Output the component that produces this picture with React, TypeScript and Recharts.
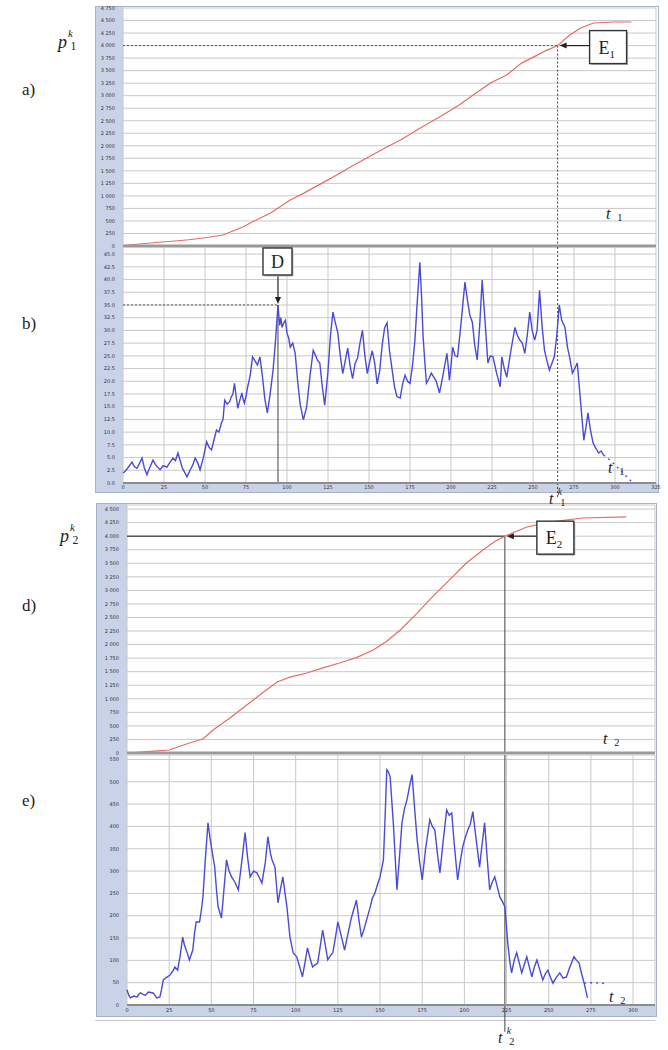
import React from "react";
import { LineChart, Line, XAxis, YAxis, CartesianGrid, ReferenceLine, ReferenceDot } from "recharts";

// time axis ticks (both plots)
const timeTicks = [0, 25, 50, 75, 100, 125, 150, 175, 200, 225, 250, 275, 300, 325];
const timeTicks2 = [0, 25, 50, 75, 100, 125, 150, 175, 200, 225, 250, 275, 300];
const ticksA = [0, 250, 500, 750, 1000, 1250, 1500, 1750, 2000, 2250, 2500, 2750, 3000, 3250, 3500, 3750, 4000, 4250, 4500, 4750];
const ticksD = [0, 250, 500, 750, 1000, 1250, 1500, 1750, 2000, 2250, 2500, 2750, 3000, 3250, 3500, 3750, 4000, 4250, 4500];
const ticksB = [0, 2.5, 5, 7.5, 10, 12.5, 15, 17.5, 20, 22.5, 25, 27.5, 30, 32.5, 35, 37.5, 40, 42.5, 45];
const ticksE = [0, 50, 100, 150, 200, 250, 300, 350, 400, 450, 500, 550];

// a) cumulative curve p1
const tA = [0, 10, 20, 30, 40, 49, 61, 73, 80, 90, 102, 110, 120, 130, 140, 150, 160, 170, 180, 193, 205, 215, 224, 234, 243, 252, 258, 265, 272, 279, 287, 299, 310];
const pA = [10, 40, 70, 95, 125, 160, 220, 380, 500, 660, 920, 1050, 1230, 1410, 1600, 1780, 1960, 2130, 2330, 2575, 2815, 3050, 3254, 3413, 3650, 3800, 3900, 4000, 4200, 4351, 4451, 4471, 4471];

// b) rate 1
const tB = [
  0, 1, 3, 5.5, 7, 8.5, 10, 11.6, 13, 14.6,
  16, 18.3, 20, 22.6, 24.5, 26.8, 28.5, 30.5, 32, 33.5,
  36, 39, 41, 42.5, 44, 45.5, 47, 49, 51, 52.5,
  54, 55.5, 57, 58.5, 60, 61, 62, 63.5, 65, 66,
  67, 68, 69, 70, 71, 72.5, 73.2, 74, 75, 76,
  77.5, 79, 80.5, 82, 83.5, 85, 86.5, 88, 89.5, 91.5,
  93, 94.5, 95.5, 96.2, 97, 98, 99, 100, 101, 102,
  103.5, 105, 106.5, 108, 110, 112, 114, 116, 117.5, 118.5,
  120, 121.5, 123, 125, 126.5, 128, 129.5, 131, 132.5, 134,
  135.5, 137, 138.5, 140, 141.5, 143, 144.5, 146, 147.5, 149,
  150.5, 152, 153.5, 155, 156.5, 158, 159.5, 161, 162.5, 164,
  165.5, 167, 169, 170.5, 172, 173.5, 175, 176.5, 178, 179.5,
  181, 182, 183, 184, 185, 186.5, 188, 189.5, 191, 193,
  195, 197.5, 198.3, 199, 200, 201, 202.5, 204, 206, 208.5,
  210, 211.5, 213, 214.5, 216, 217.5, 219, 220.5, 222.5, 224,
  225.6, 227.5, 230, 231, 232.5, 234, 236.5, 239, 240.5, 242,
  243.5, 245, 246.5, 248, 249.5, 251, 252.5, 254, 255.5, 257,
  258.5, 260, 261.5, 263, 264.5, 266, 267.5, 269.5, 271, 272.5,
  274, 275.5, 277, 279, 281, 282.3, 283.5, 285, 286.6, 288,
  290, 291.5, 293,
];
const vB = [
  2.0, 2.2, 3.0, 4.1, 3.2, 2.9, 3.8, 4.9, 3.0, 1.6,
  2.8, 4.5, 3.5, 2.6, 3.4, 3.1, 4.0, 4.9, 4.4, 5.9,
  3.1, 1.2, 2.6, 3.5, 4.9, 4.0, 2.6, 5.0, 8.1, 7.0,
  6.5, 8.5, 10.4, 10.0, 11.8, 12.5, 16.3, 15.5, 16.0, 16.9,
  17.5, 19.6, 17.0, 14.7, 16.0, 17.7, 16.5, 15.7, 17.0, 18.9,
  21.0, 24.8, 24.0, 23.2, 24.8, 21.0, 16.5, 13.8, 17.0, 22.2,
  28.0, 35.0, 31.0, 32.5, 30.6, 31.5, 32.0, 29.5, 28.5, 26.7,
  27.5, 25.5, 20.0, 15.5, 12.4, 15.0, 21.0, 26.1, 25.0, 24.2,
  23.6, 19.0, 15.3, 22.0, 29.0, 33.6, 31.5, 29.5, 25.0, 21.5,
  24.0, 26.5, 23.0, 20.5, 23.5, 24.5, 27.5, 30.0, 25.0, 21.5,
  24.0, 26.0, 23.5, 19.5, 22.0, 27.0, 30.5, 31.5, 26.0, 22.5,
  19.0, 17.0, 16.7, 19.5, 21.2, 20.0, 19.6, 23.0, 28.1, 36.0,
  43.4, 37.0, 28.7, 24.0, 19.6, 20.5, 21.6, 20.8, 20.0, 17.7,
  21.0, 25.5, 23.0, 20.2, 23.0, 26.7, 25.0, 24.8, 31.0, 39.5,
  36.0, 33.0, 31.6, 27.0, 24.2, 31.0, 39.9, 33.0, 23.6, 25.0,
  24.8, 22.0, 18.9, 24.8, 22.5, 20.8, 26.0, 30.6, 29.0, 28.1,
  27.5, 25.5, 29.0, 33.6, 30.0, 28.1, 30.0, 37.9, 31.0, 26.1,
  24.0, 22.2, 23.5, 24.8, 29.0, 35.0, 32.0, 30.6, 26.7, 24.5,
  21.6, 22.5, 23.6, 16.0, 8.4, 11.0, 13.8, 10.5, 7.9, 7.0,
  5.9, 6.3, 5.5,
];
const tBtail = [293, 298, 303, 310];
const vBtail = [5.5, 4.2, 2.6, 0.3];

// d) cumulative curve p2
const tD = [0, 14, 25, 37, 45, 51, 61, 71, 81, 89, 96.5, 106.6, 116, 126, 136, 146, 154, 162, 172, 181, 191, 201, 211, 218, 224, 237, 250.6, 270, 296];
const pD = [0, 30, 55, 185, 258, 424, 645, 885, 1125, 1310, 1400, 1475, 1570, 1660, 1760, 1900, 2060, 2270, 2580, 2880, 3190, 3500, 3745, 3900, 4000, 4170, 4260, 4335, 4355];

// e) rate 2
const tE = [
  0, 1, 2, 4, 6, 7, 8, 9.5, 11, 12.6,
  14, 15.5, 16.5, 17.6, 19.5, 20.5, 21.5, 23.5, 25.5, 27,
  28.4, 30, 31.5, 33, 34, 35.5, 37, 39, 40, 41,
  43, 44, 45, 46.5, 48, 49, 50, 52, 53, 54,
  56, 57.5, 59, 60.5, 62, 64, 66, 68, 70, 71.5,
  73, 75, 77, 78.5, 80, 82, 83.5, 85, 86, 87.7,
  89.5, 91, 92.4, 93.5, 94.8, 96.6, 98.5, 100.6, 102, 104,
  105.5, 107, 108.5, 110, 111.5, 113, 114.5, 116, 117.5, 119,
  120.5, 122, 123.5, 125, 127, 129, 131, 133, 134.5, 136,
  137.5, 139, 140.5, 142, 144, 145.5, 147, 148.5, 150, 152,
  153, 154, 155, 156, 158, 160, 161.5, 163, 164.5, 166,
  167.5, 169, 170.5, 172, 173.5, 175, 177, 179.5, 181, 182.5,
  184, 185.5, 187.5, 189.5, 191, 192.5, 194, 196, 197.5, 199,
  200.5, 202, 203.5, 205, 207, 209, 210.5, 212, 213.5, 215,
  216.5, 218, 219.5, 221, 222.5, 224, 225.7, 227, 228, 229.5,
  231, 232.5, 234, 235.5, 237, 238.5, 240, 241.5, 243, 245,
  246.5, 248, 249.5, 251, 252.5, 254.5, 256.5, 258.5, 260.5, 262.5,
  265, 266.5, 268, 269.5, 271, 273,
];
const vE = [
  34, 22, 16, 20, 18, 24, 27, 24, 22, 29,
  28, 27, 22, 16, 18, 35, 56, 62, 67, 75,
  85, 78, 110, 152, 135, 119, 101, 123, 160, 186,
  186, 210, 242, 330, 408, 380, 354, 309, 260, 220,
  195, 260, 325, 300, 287, 275, 258, 320, 386, 330,
  287, 300, 296, 285, 273, 320, 377, 340, 325, 309,
  229, 260, 287, 255, 220, 152, 117, 108, 90, 63,
  95, 128, 105, 85, 90, 94, 130, 168, 135, 101,
  110, 117, 150, 186, 155, 123, 160, 195, 215, 235,
  190, 152, 170, 190, 217, 240, 251, 270, 287, 325,
  420, 527, 522, 511, 400, 258, 330, 408, 440, 460,
  490, 516, 440, 370, 320, 280, 350, 415, 400, 392,
  340, 296, 370, 437, 425, 430, 360, 280, 320, 354,
  375, 392, 405, 433, 370, 309, 360, 408, 330, 258,
  275, 287, 265, 242, 232, 220, 139, 95, 72, 100,
  117, 95, 72, 90, 108, 85, 63, 85, 101, 75,
  56, 70, 78, 62, 49, 62, 72, 60, 63, 85,
  108, 100, 94, 70, 49, 16,
];
const tEtail = [271, 276, 280, 285];
const vEtail = [49, 50, 49, 48];

const zip = (ts: number[], vs: number[]) => ts.map((t, i) => ({ t, v: vs[i] }));
const dataA = zip(tA, pA);
const dataB = zip(tB, vB);
const dataBtail = zip(tBtail, vBtail);
const dataD = zip(tD, pD);
const dataE = zip(tE, vE);
const dataEtail = zip(tEtail, vEtail);

const RED = "#e46b66";
const BLUE = "#4a4ad8";
const GRID = "#c9c9c9";
const STRIP = "#c9d2e7";
const SERIF = "'Liberation Serif', 'DejaVu Serif', serif";
const tickStyle = { fontSize: 5, fill: "#333", fontFamily: "'DejaVu Sans', sans-serif" };

// non-breaking space so the tick text stays on one line
const fmtThousands = (v: number) =>
  v >= 1000 ? `${Math.floor(v / 1000)}\u00a0${String(v % 1000).padStart(3, "0")}` : String(v);

function Callout(props: any) {
  const { cx, cy, name, sub, dir } = props;
  if (dir === "down") {
    const w = 29, h = 27, bx = cx - 15, by = cy - 57;
    return (
      <g>
        <line x1={cx} y1={by + h} x2={cx} y2={cy - 7} stroke="#222" strokeWidth={1.2} />
        <path d={`M${cx - 3},${cy - 8} L${cx + 3},${cy - 8} L${cx},${cy - 1} Z`} fill="#222" />
        <rect x={bx + 1.5} y={by + 1.5} width={w} height={h} fill="#bbb" />
        <rect x={bx} y={by} width={w} height={h} fill="#fff" stroke="#333" strokeWidth={1.4} />
        <text x={bx + w / 2} y={by + 20} textAnchor="middle" fontFamily={SERIF} fontSize={18} fill="#222">{name}</text>
      </g>
    );
  }
  const w = 37, h = 33, bx = cx + 32, by = cy - 15;
  return (
    <g>
      <line x1={bx} y1={cy} x2={cx + 8} y2={cy} stroke="#222" strokeWidth={1.2} />
      <path d={`M${cx + 9},${cy - 3} L${cx + 9},${cy + 3} L${cx + 2},${cy} Z`} fill="#222" />
      <rect x={bx + 1.5} y={by + 1.5} width={w} height={h} fill="#bbb" />
      <rect x={bx} y={by} width={w} height={h} fill="#fff" stroke="#333" strokeWidth={1.4} />
      <text x={bx + 9} y={by + 23} fontFamily={SERIF} fontSize={18} fill="#222">
        {name}
        <tspan fontSize={11} dy={4}>{sub}</tspan>
      </text>
    </g>
  );
}

function Sym({ x, y, base, sup, sub, size = 17 }: any) {
  return (
    <div style={{ position: "absolute", left: x, top: y, fontFamily: SERIF, fontStyle: "italic", fontSize: size, lineHeight: 1, color: "#222", whiteSpace: "nowrap" }}>
      {base}
      {sup && <span style={{ position: "absolute", left: size * 0.55, top: -size * 0.28, fontSize: size * 0.6 }}>{sup}</span>}
      {sub && <span style={{ position: "absolute", left: size * 0.7, top: size * 0.42, fontSize: size * 0.65, fontStyle: "normal" }}>{sub}</span>}
    </div>
  );
}

function Lbl({ x, y, text }: any) {
  return <div style={{ position: "absolute", left: x, top: y, fontFamily: SERIF, fontSize: 17, color: "#222" }}>{text}</div>;
}

export default function App() {
  return (
    <div style={{ position: "absolute", left: 0, top: 0, width: 668, height: 1050, background: "#fff", overflow: "hidden" }}>
      {/* axis strips and frames */}
      <div style={{ position: "absolute", left: 95, top: 6, width: 28, height: 486, background: STRIP }} />
      <div style={{ position: "absolute", left: 95, top: 483, width: 563, height: 9, background: STRIP }} />
      <div style={{ position: "absolute", left: 95, top: 6, width: 562, height: 485, border: "1px solid #a7b2ca" }} />
      <div style={{ position: "absolute", left: 96, top: 503, width: 31, height: 513, background: STRIP }} />
      <div style={{ position: "absolute", left: 96, top: 1005, width: 560, height: 11, background: STRIP }} />
      <div style={{ position: "absolute", left: 96, top: 503, width: 559, height: 512, border: "1px solid #a7b2ca" }} />
      <div style={{ position: "absolute", left: 95, top: 1020, width: 560, height: 1, background: "#c8c8c8" }} />

      {/* a) */}
      <div style={{ position: "absolute", left: 95, top: 0 }}>
        <LineChart width={563} height={252} data={dataA} margin={{ top: 8, right: 2, bottom: 6, left: 0 }}>
          <CartesianGrid stroke={GRID} />
          <XAxis dataKey="t" type="number" domain={[0, 325]} ticks={timeTicks} height={0} tick={false} axisLine={false} tickLine={false} />
          <YAxis type="number" domain={[0, 4750]} ticks={ticksA} width={28} interval={0} tick={tickStyle} tickFormatter={fmtThousands} axisLine={false} tickLine={false} tickMargin={2} />
          <ReferenceLine segment={[{ x: 0, y: 4000 }, { x: 265, y: 4000 }]} stroke="#555" strokeDasharray="2 2" />
          <ReferenceLine segment={[{ x: 265, y: 4000 }, { x: 265, y: 0 }]} stroke="#444" strokeDasharray="2 2" />
          <Line dataKey="v" type="linear" stroke={RED} strokeWidth={1.2} dot={false} isAnimationActive={false} />
          <ReferenceLine y={0} stroke="#999" strokeWidth={3} />
          <ReferenceDot x={265} y={4000} shape={(p: any) => <Callout {...p} name="E" sub="1" dir="left" />} />
        </LineChart>
      </div>

      {/* b) */}
      <div style={{ position: "absolute", left: 95, top: 247 }}>
        <LineChart width={573} height={259} margin={{ top: 0, right: 12, bottom: 14, left: 0 }}>
          <CartesianGrid stroke={GRID} />
          <XAxis dataKey="t" type="number" domain={[0, 325]} ticks={timeTicks} height={9} interval={0} tick={tickStyle} tickLine={false} tickSize={0} tickMargin={2} axisLine={{ stroke: "#8d8d8d", strokeWidth: 2 }} />
          <YAxis type="number" domain={[0, 46.4]} ticks={ticksB} width={28} interval={0} tick={tickStyle} tickFormatter={(v: number) => v.toFixed(1)} axisLine={false} tickLine={false} tickMargin={2} />
          <ReferenceLine segment={[{ x: 0, y: 35 }, { x: 94.5, y: 35 }]} stroke="#555" strokeDasharray="2 2" />
          <ReferenceLine segment={[{ x: 94.5, y: 35 }, { x: 94.5, y: 0 }]} stroke="#444" />
          <ReferenceLine segment={[{ x: 265, y: 46.4 }, { x: 265, y: -3 }]} stroke="#444" strokeDasharray="2 2" ifOverflow="visible" />
          <Line data={dataB} dataKey="v" type="linear" stroke={BLUE} strokeWidth={1.4} dot={false} isAnimationActive={false} />
          <Line data={dataBtail} dataKey="v" type="linear" stroke={BLUE} strokeWidth={1.4} strokeDasharray="2 4" dot={false} isAnimationActive={false} />
          <ReferenceDot x={94.5} y={35} shape={(p: any) => <Callout {...p} name="D" dir="down" />} />
        </LineChart>
      </div>

      {/* d) */}
      <div style={{ position: "absolute", left: 96, top: 498 }}>
        <LineChart width={560} height={261} data={dataD} margin={{ top: 7, right: 1, bottom: 6, left: 0 }}>
          <CartesianGrid stroke={GRID} />
          <XAxis dataKey="t" type="number" domain={[0, 313]} ticks={timeTicks2} height={0} tick={false} axisLine={false} tickLine={false} />
          <YAxis type="number" domain={[0, 4575]} ticks={ticksD} width={31} interval={0} tick={tickStyle} tickFormatter={fmtThousands} axisLine={false} tickLine={false} tickMargin={2} />
          <ReferenceLine segment={[{ x: 0, y: 4000 }, { x: 224, y: 4000 }]} stroke="#555" strokeWidth={1.5} />
          <ReferenceLine segment={[{ x: 224, y: 4000 }, { x: 224, y: 0 }]} stroke="#444" />
          <Line dataKey="v" type="linear" stroke={RED} strokeWidth={1.2} dot={false} isAnimationActive={false} />
          <ReferenceLine y={0} stroke="#999" strokeWidth={3} />
          <ReferenceDot x={224} y={4000} shape={(p: any) => <Callout {...p} name="E" sub="2" dir="left" />} />
        </LineChart>
      </div>

      {/* e) */}
      <div style={{ position: "absolute", left: 96, top: 755 }}>
        <LineChart width={560} height={286} margin={{ top: 0, right: 1, bottom: 25, left: 0 }}>
          <CartesianGrid stroke={GRID} />
          <XAxis dataKey="t" type="number" domain={[0, 313]} ticks={timeTicks2} height={11} interval={0} tick={tickStyle} tickLine={false} tickSize={0} tickMargin={3} axisLine={{ stroke: "#8d8d8d", strokeWidth: 2 }} />
          <YAxis type="number" domain={[0, 560]} ticks={ticksE} width={31} interval={0} tick={tickStyle} axisLine={false} tickLine={false} tickMargin={2} />
          <ReferenceLine segment={[{ x: 224, y: 560 }, { x: 224, y: -60 }]} stroke="#444" ifOverflow="visible" />
          <Line data={dataE} dataKey="v" type="linear" stroke={BLUE} strokeWidth={1.4} dot={false} isAnimationActive={false} />
          <Line data={dataEtail} dataKey="v" type="linear" stroke={BLUE} strokeWidth={1.4} strokeDasharray="2 4" dot={false} isAnimationActive={false} />
        </LineChart>
      </div>

      {/* labels */}
      <Sym x={58} y={33} base="p" sup="k" sub="1" size={18} />
      <Lbl x={22} y={80} text="a)" />
      <Lbl x={22} y={314} text="b)" />
      <Sym x={60} y={527} base="p" sup="k" sub="2" size={18} />
      <Lbl x={22} y={596} text="d)" />
      <Lbl x={22} y={791} text="e)" />
      <Sym x={606} y={206} base="t" sub="1" size={16} />
      <Sym x={608} y={460} base="t" sub="1" size={16} />
      <Sym x={603} y={731} base="t" sub="2" size={16} />
      <Sym x={609} y={989} base="t" sub="2" size={16} />
      <Sym x={549} y={491} base="t" sup="k" sub="1" size={16} />
      <Sym x={498} y={1030} base="t" sup="k" sub="2" size={16} />
    </div>
  );
}
